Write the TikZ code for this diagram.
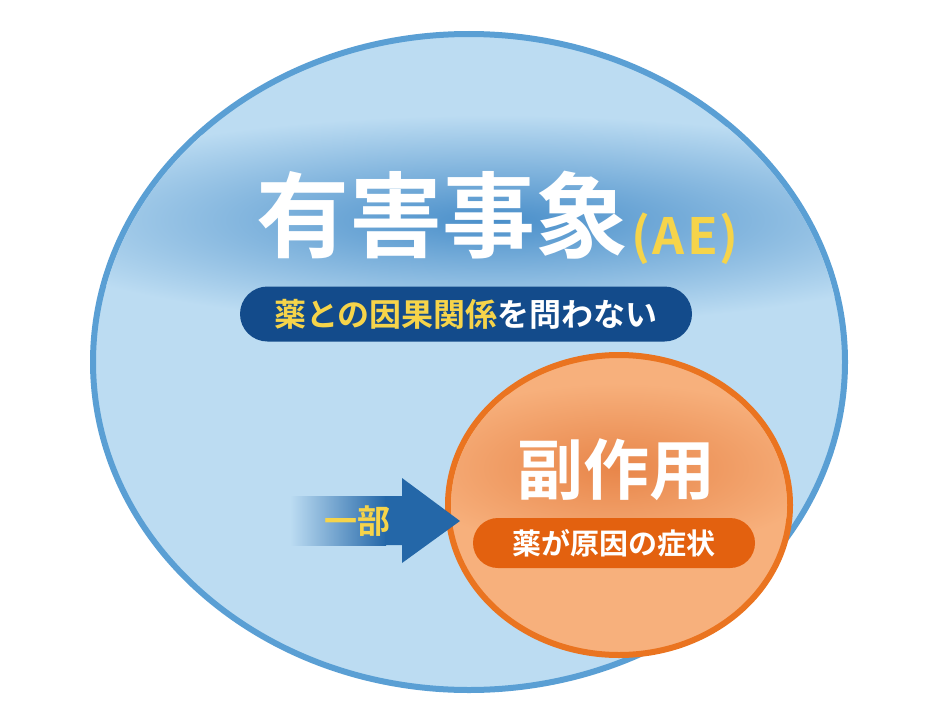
\documentclass[tikz,border=0pt]{standalone}
\usepackage{fontspec}
\newfontfamily\jp{Noto Sans CJK JP}[BoldFont={Noto Sans CJK JP Bold}]
\usetikzlibrary{shapes.geometric,shapes.misc}

\definecolor{aeline}{HTML}{5A9FD4}
\definecolor{aefill}{HTML}{BCDCF2}
\definecolor{aeglow}{HTML}{4A8FCA}
\definecolor{bandblue}{HTML}{134B8B}
\definecolor{arrowblue}{HTML}{2467A8}
\definecolor{saline}{HTML}{EA7420}
\definecolor{safill}{HTML}{F7B07C}
\definecolor{saglow}{HTML}{E8864A}
\definecolor{saband}{HTML}{E3610F}
\definecolor{hiyellow}{HTML}{F6D44A}

\tikzset{
  pill/.style={rounded rectangle, inner sep=0pt, font=\jp\bfseries},
  lbl/.style={inner sep=0pt, font=\jp\bfseries}
}

\begin{document}
\begin{tikzpicture}[x=1pt,y=-1pt]
\useasboundingbox (0,0) rectangle (952,717);

% adverse events (outer set)
\node[ellipse, draw=aeline, fill=aefill, line width=6pt, inner sep=0pt,
  minimum width=752pt, minimum height=656pt] (ae) at (469,362) {};
\begin{scope}
  \clip (469,362) ellipse (373 and 325);
  \shade[inner color=aeglow, outer color=aefill] (495,220) ellipse (500 and 105);
\end{scope}

\node[lbl, text=white, font=\jp\bfseries\fontsize{93}{93}\selectfont, anchor=base] (aetitle) at (442,250) {有害事象};
\node[lbl, text=hiyellow, font=\jp\bfseries\fontsize{50}{50}\selectfont, anchor=base west] (aeabbr) at (631,254)
  {(\kern2pt A\kern3pt E\kern2pt)};

\node[pill, fill=bandblue, minimum width=452pt, minimum height=55pt,
  font=\jp\bfseries\fontsize{32}{32}\selectfont] (aenote) at (466,314)
  {\textcolor{hiyellow}{薬との因果関係}\textcolor{white}{を問わない}};

% side effects (inner set)
\node[ellipse, draw=saline, fill=safill, line width=6pt, inner sep=0pt,
  minimum width=342pt, minimum height=300pt] (sa) at (619,505) {};
\begin{scope}
  \clip (619,505) ellipse (168 and 147);
  \shade[inner color=saglow, outer color=safill] (616,468) ellipse (210 and 85);
\end{scope}

\node[lbl, text=white, font=\jp\bfseries\fontsize{66}{66}\selectfont] (satitle) at (616,470) {副作用};
\node[pill, fill=saband, text=white, minimum width=282pt, minimum height=50pt,
  font=\jp\bfseries\fontsize{29}{29}\selectfont] (sanote) at (614,543) {薬が原因の症状};

% arrow: part of
\coordinate (tail) at (290,521);
\coordinate (tip) at (460,521);
\shade[left color=aefill, right color=arrowblue] (tail |- 0,496) rectangle (386,545);
\fill[arrowblue] (385,496) -- (402,496) -- (402,478) -- (tip) -- (402,563) -- (402,545) -- (385,545) -- cycle;
\node[lbl, text=hiyellow, font=\jp\bfseries\fontsize{33}{33}\selectfont] (part) at (357,521) {一部};

\end{tikzpicture}
\end{document}
